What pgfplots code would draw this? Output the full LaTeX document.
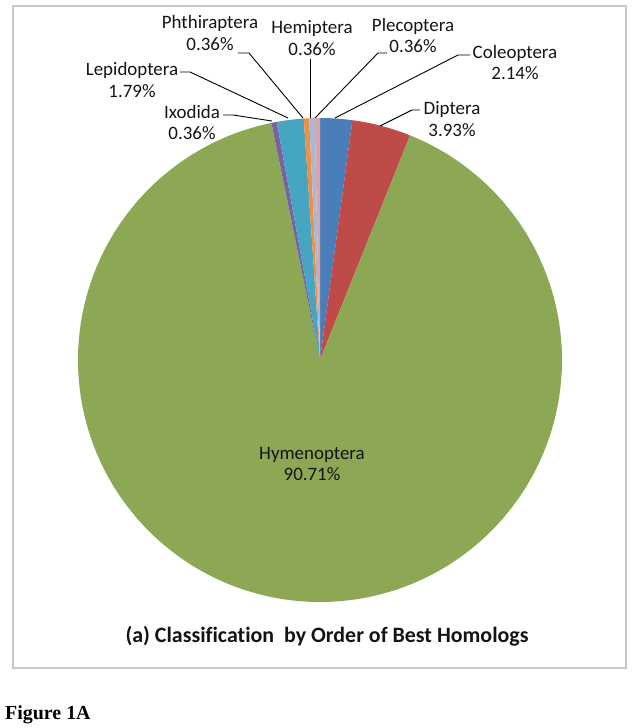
\documentclass[border=0pt]{standalone}
\usepackage{pgfplots}
\pgfplotsset{compat=1.18}
\usepackage{pgfplotstable}
\usepackage{fontspec}
\setmainfont{Carlito}[Ligatures=NoCommon]
\newfontfamily\timesfont{Liberation Serif}

\definecolor{cA}{HTML}{4A7EBB}
\definecolor{cB}{HTML}{BE4B48}
\definecolor{cC}{HTML}{8DA854}
\definecolor{cD}{HTML}{7D60A0}
\definecolor{cE}{HTML}{46A5C0}
\definecolor{cF}{HTML}{F08F3F}
\definecolor{cG}{HTML}{A6B9DD}
\definecolor{cH}{HTML}{E0A3A1}
\definecolor{framegray}{HTML}{C8C8C8}
\definecolor{txt}{HTML}{141414}

% percentages, clockwise from 12 o'clock
\pgfplotstableread{
name value col
Coleoptera 2.14 cA
Diptera 3.93 cB
Hymenoptera 90.71 cC
Ixodida 0.36 cD
Lepidoptera 1.79 cE
Phthiraptera 0.36 cF
Hemiptera 0.36 cG
Plecoptera 0.36 cH
}\piedata

\begin{document}
\begin{tikzpicture}
\begin{axis}[
	scale only axis,
	width=632bp, height=728bp,
	xmin=0, xmax=632, ymin=0, ymax=728,
	y dir=reverse,
	hide axis,
	clip=false,
	anchor=south west, at={(0,0)},
	]
	% pie: centre (320,360), radius 242
	\def\cum{0}
	\pgfplotsforeachungrouped \i in {0,...,7}{
		\pgfplotstablegetelem{\i}{value}\of\piedata \let\sliceval\pgfplotsretval
		\pgfplotstablegetelem{\i}{col}\of\piedata \let\slicecol\pgfplotsretval
		\pgfmathsetmacro\nxt{\cum+\sliceval}
		\pgfmathtruncatemacro\ns{max(3,4*\sliceval)}
		\edef\cmd{\noexpand\addplot[fill=\slicecol, draw=none, domain=\cum:\nxt, samples=\ns, variable=\noexpand\t]
			({320+242*sin(3.6*\noexpand\t)},{360-242*cos(3.6*\noexpand\t)}) -- (axis cs:320,360) -- cycle;}
		\cmd
		\global\let\cum\nxt
	}

	% frame
	\draw[framegray, line width=2bp] (axis cs:13,6) rectangle (axis cs:626,668);

	% leader lines
	\draw[black, line width=0.9bp] (axis cs:238,53) -- (axis cs:249,53) -- (axis cs:303,118);
	\draw[black, line width=0.9bp] (axis cs:310,59) -- (axis cs:310,118);
	\draw[black, line width=0.9bp] (axis cs:387,53) -- (axis cs:378,53) -- (axis cs:315,118);
	\draw[black, line width=0.9bp] (axis cs:470,55) -- (axis cs:458,55) -- (axis cs:335,118);
	\draw[black, line width=0.9bp] (axis cs:180,72) -- (axis cs:190,72) -- (axis cs:288,118);
	\draw[black, line width=0.9bp] (axis cs:223,115) -- (axis cs:233,115) -- (axis cs:272,121);
	\draw[black, line width=0.9bp] (axis cs:420,110) -- (axis cs:412,110) -- (axis cs:380,126);

	% labels
	\tikzset{lbl/.style={align=center, text=txt, inner sep=0pt, font=\fontsize{19}{22}\selectfont}}
	\node[lbl] at (axis cs:210,33) {Phthiraptera\\0.36\%};
	\node[lbl] at (axis cs:312,38) {Hemiptera\\0.36\%};
	\node[lbl] at (axis cs:413,35.5) {Plecoptera\\0.36\%};
	\node[lbl] at (axis cs:515,62.5) {Coleoptera\\2.14\%};
	\node[lbl] at (axis cs:132,80) {Lepidoptera\\1.79\%};
	\node[lbl] at (axis cs:192,122.5) {Ixodida\\0.36\%};
	\node[lbl] at (axis cs:452,119) {Diptera\\3.93\%};
	\node[lbl] at (axis cs:312,464) {Hymenoptera\\90.71\%};

	% title
	\node[anchor=base, text=txt, inner sep=0pt, font=\fontsize{22}{26}\selectfont\bfseries] at (axis cs:327,642) {(a) Classification\ \ by Order of Best Homologs};

	% figure caption
	\node[anchor=base west, inner sep=0pt, font=\timesfont\fontsize{20}{24}\selectfont\bfseries] at (axis cs:5,719) {Figure 1A};
\end{axis}
\pgfresetboundingbox
\path (0,0) rectangle (632bp,728bp);
\end{tikzpicture}
\end{document}
